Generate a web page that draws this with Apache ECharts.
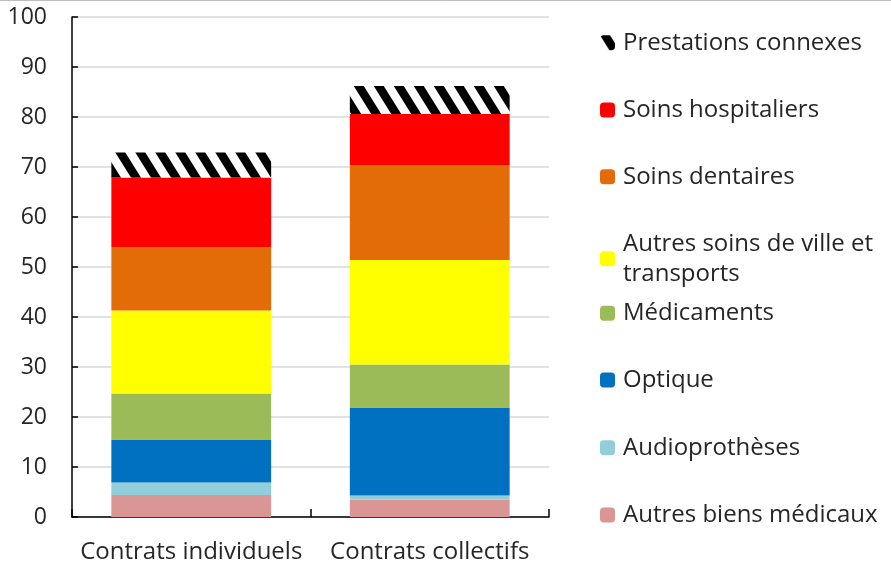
<!DOCTYPE html>
<html>
<head>
<meta charset="utf-8">
<script src="https://cdn.jsdelivr.net/npm/echarts@6/dist/echarts.min.js"></script>
<style>
  html, body { margin: 0; padding: 0; background: #fff; }
  #chart { width: 891px; height: 569px; }
</style>
</head>
<body>
<div id="chart"></div>
<script>
// Contract types on the x axis
var categories = ['Contrats individuels', 'Contrats collectifs'];

// Spending shares by care item, bottom of the stack first
var autresBiens   = [4.4, 3.5];
var audio         = [2.5, 0.8];
var optique       = [8.6, 17.6];
var medicaments   = [9.2, 8.6];
var autresSoins   = [16.6, 20.9];
var dentaires     = [12.6, 19.0];
var hospitaliers  = [14.0, 10.2];
var prestations   = [5.0, 5.6];

var yTicks = [0, 10, 20, 30, 40, 50, 60, 70, 80, 90, 100];

var FONT = '"Open Sans", "DejaVu Sans", sans-serif';
var TXT = '#262626';

// Black/white downward-diagonal hatch used for "Prestations connexes"
function hatchCanvas() {
  var w = 20, h = 32;
  var c = document.createElement('canvas');
  c.width = w; c.height = h;
  var g = c.getContext('2d');
  g.fillStyle = '#fff';
  g.fillRect(0, 0, w, h);
  g.fillStyle = '#000';
  [-20, 0, 20].forEach(function (x0) {
    g.beginPath();
    g.moveTo(x0, 0);
    g.lineTo(x0 + 10, 0);
    g.lineTo(x0 + 30, h);
    g.lineTo(x0 + 20, h);
    g.closePath();
    g.fill();
  });
  return c;
}
var hatch = { image: hatchCanvas(), repeat: 'repeat' };

var seriesDefs = [
  { name: 'Autres biens médicaux', data: autresBiens, color: '#DA9694' },
  { name: 'Audioprothèses', data: audio, color: '#92CDDC' },
  { name: 'Optique', data: optique, color: '#0070C0' },
  { name: 'Médicaments', data: medicaments, color: '#9BBB59' },
  { name: 'Autres soins de ville et transports', data: autresSoins, color: '#FFFF00' },
  { name: 'Soins dentaires', data: dentaires, color: '#E36C09' },
  { name: 'Soins hospitaliers', data: hospitaliers, color: '#FF0000' },
  { name: 'Prestations connexes', data: prestations, color: hatch }
];

var series = seriesDefs.map(function (d) {
  return {
    name: d.name,
    type: 'bar',
    stack: 'total',
    barCategoryGap: '33%',
    data: d.data,
    itemStyle: { color: d.color },
    emphasis: { disabled: true }
  };
});

// Legend, one block per item, listed top to bottom (reverse of stack order)
var legendCenters = [42.7, 110, 176.7, 246.7, 313.3, 380, 447.7, 515];
var legendNames = seriesDefs.map(function (d) { return d.name; }).reverse();
var legends = legendNames.map(function (name, i) {
  var twoLine = name === 'Autres soins de ville et transports';
  return {
    data: [name],
    left: 600,
    top: legendCenters[i] - 15,
    padding: 0,
    itemWidth: 15,
    itemHeight: 15,
    selectedMode: false,
    formatter: twoLine ? function () { return 'Autres soins de ville et\ntransports'; } : '{name}',
    textStyle: {
      fontFamily: FONT,
      fontSize: 24,
      lineHeight: 30,
      color: TXT,
      padding: twoLine ? [0, 0, -30, 3] : [0, 0, 0, 3]
    }
  };
});

var chart = echarts.init(document.getElementById('chart'), null, { renderer: 'canvas' });
chart.setOption({
  animation: false,
  backgroundColor: '#fff',
  textStyle: { fontFamily: FONT },
  grid: { left: 72, right: 342, top: 17, bottom: 52, containLabel: false },
  legend: legends,
  xAxis: {
    type: 'category',
    data: categories,
    axisLine: { lineStyle: { color: '#000', width: 1.5 } },
    axisTick: { show: true, inside: true, length: 8, lineStyle: { color: '#000', width: 1.5 } },
    axisLabel: { interval: 0, hideOverlap: false, fontFamily: FONT, fontSize: 24, color: TXT, margin: 23 }
  },
  yAxis: {
    type: 'value',
    min: yTicks[0],
    max: yTicks[yTicks.length - 1],
    interval: 10,
    axisLine: { show: true, lineStyle: { color: '#000', width: 1.5 } },
    axisTick: { show: true, inside: true, length: 6, lineStyle: { color: '#000', width: 1.5 } },
    axisLabel: { fontFamily: FONT, fontSize: 23, color: TXT, margin: 25 },
    splitLine: { lineStyle: { color: '#d9d9d9', width: 1.5 } }
  },
  graphic: [{
    type: 'line',
    shape: { x1: 0, y1: 0.5, x2: 891, y2: 0.5 },
    style: { stroke: '#bfbfbf', lineWidth: 1 }
  }],
  series: series
});
</script>
</body>
</html>
